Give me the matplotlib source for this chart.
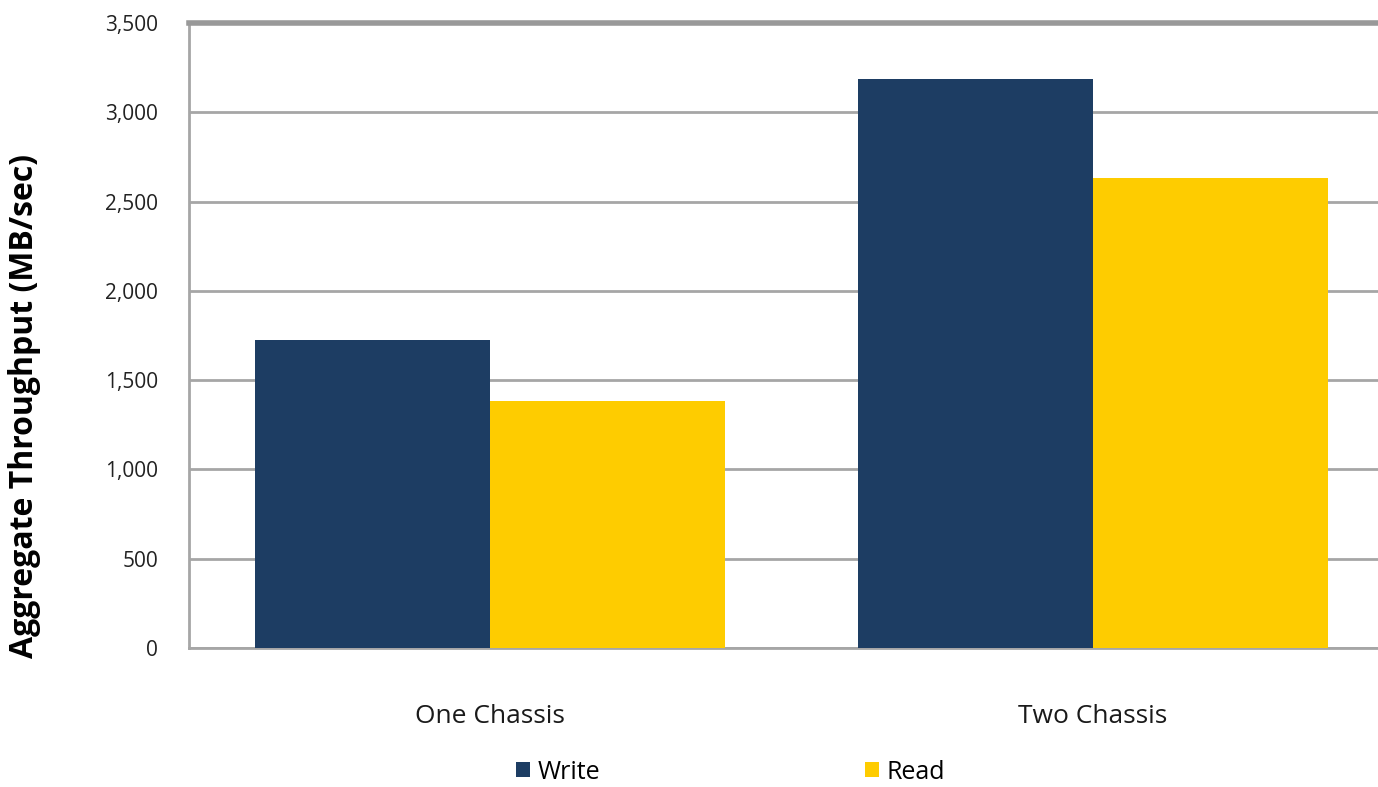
import numpy as np
import matplotlib.pyplot as plt
from matplotlib.ticker import FuncFormatter

categories = ["One Chassis", "Two Chassis"]
write_vals = [1725, 3185]
read_vals = [1385, 2630]
series_names = ["Write", "Read"]

WRITE_COLOR = "#1d3d63"
READ_COLOR = "#fecc00"
GRID_COLOR = "#a6a6a6"

plt.rcParams['font.family'] = ['Open Sans', 'DejaVu Sans']

fig = plt.figure(figsize=(13.78, 7.87), dpi=100)
ax = fig.add_axes([0.1368, 0.1766, 0.8752, 0.794])

x = np.arange(len(categories))
w = 0.39
ax.bar(x - w / 2, write_vals, w, color=WRITE_COLOR, label=series_names[0], zorder=3)
ax.bar(x + w / 2, read_vals, w, color=READ_COLOR, label=series_names[1], zorder=3)

ax.set_xlim(-0.5, 1.5)
ax.set_ylim(0, 3500)
ax.set_yticks(np.arange(0, 3501, 500))
ax.yaxis.set_major_formatter(FuncFormatter(lambda v, p: f"{int(v):,}"))
ax.set_xticks(x)
ax.set_xticklabels(categories, fontsize=19, color="#1a1a1a")
ax.tick_params(axis='x', length=0, pad=40)
ax.tick_params(axis='y', length=0, pad=22, labelsize=15, labelcolor="#222222")

ax.grid(axis='y', color=GRID_COLOR, linewidth=2, zorder=0)
for s in ["left", "bottom"]:
    ax.spines[s].set_color(GRID_COLOR)
    ax.spines[s].set_linewidth(2)
ax.spines["right"].set_visible(False)
ax.spines["top"].set_color("#999999")
ax.spines["top"].set_linewidth(4)

ax.set_ylabel("Aggregate Throughput (MB/sec)", fontsize=23, fontweight='bold')
ax.yaxis.set_label_coords(-0.122, 0.387)

fig.legend(loc='center', bbox_to_anchor=(0.53, 0.019), ncol=2, frameon=False,
           fontsize=18, handlelength=0.55, handleheight=0.55, handletextpad=0.3,
           columnspacing=10.6)

fig.savefig("out.png", dpi=100)
